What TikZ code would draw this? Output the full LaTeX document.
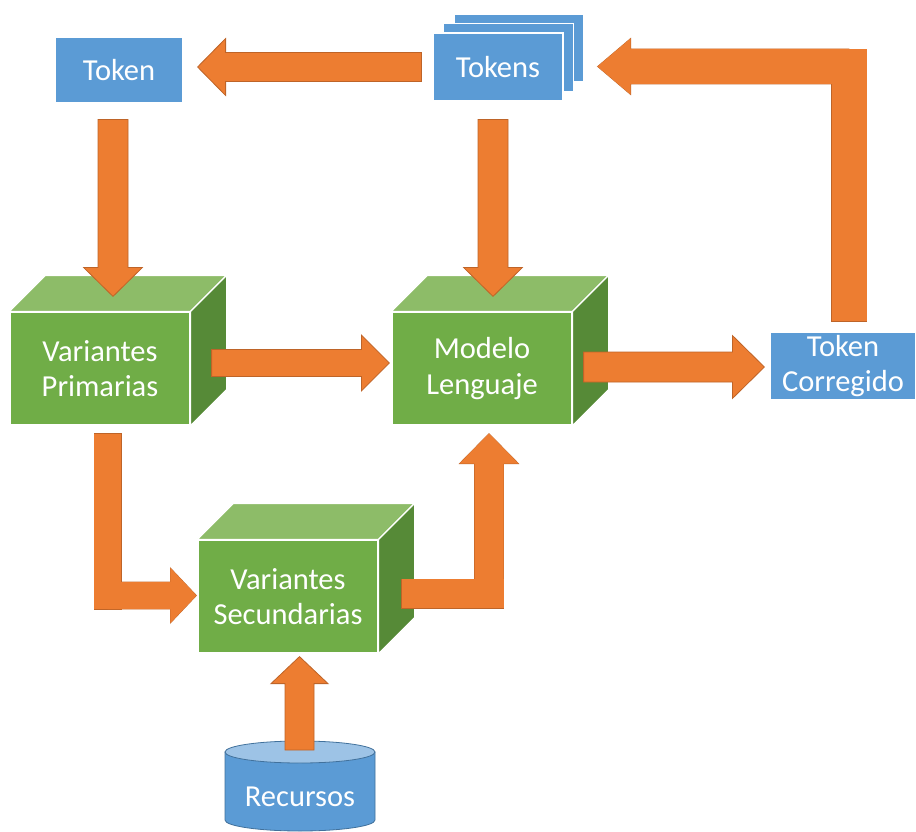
\documentclass[tikz,border=0pt]{standalone}
\usepackage{fontspec}
\setmainfont{Carlito}
\usetikzlibrary{calc,shadows}

\definecolor{boxblue}{RGB}{91,155,213}
\definecolor{cylrim}{RGB}{65,113,156}
\definecolor{cyltopc}{RGB}{157,195,230}
\definecolor{greenfront}{RGB}{112,173,71}
\definecolor{greentop}{RGB}{141,188,104}
\definecolor{greenside}{RGB}{86,138,55}
\definecolor{arroworange}{RGB}{237,125,49}
\definecolor{arrowrim}{RGB}{190,100,40}

\newcommand\diagfont{\fontsize{30.5}{35.5}\selectfont}

\tikzset{
  bluebox/.style={fill=boxblue, draw=white, line width=1.2pt, text=white,
    inner sep=0pt, align=center, font=\diagfont},
  cubefront/.style={fill=greenfront, draw=white, line width=1.2pt, text=white,
    minimum width=180pt, minimum height=113pt, inner sep=0pt, align=center,
    font=\diagfont},
  cubetop/.style={fill=greentop, draw=white, line width=1.2pt, line join=round},
  cubeside/.style={fill=greenside, draw=white, line width=1.2pt, line join=round},
  blockarrow/.style={fill=arroworange, draw=arrowrim, line width=0.8pt, line join=miter},
  arrowedge/.style={draw=arrowrim, line width=0.8pt},
  arrowbody/.style={fill=arroworange},
}

% outline of a straight block arrow: start, head base, tip, shaft half width, head half width
\newcommand\arrowpoly[5]{%
  ($(#1)!#4!90:(#2)$) -- ($(#2)!#4!-90:(#1)$) -- ($(#2)!#5!-90:(#1)$) -- (#3)
  -- ($(#2)!#5!90:(#1)$) -- ($(#2)!#4!90:(#1)$) -- ($(#1)!#4!-90:(#2)$) -- cycle}

% straight block arrow: start, tip, shaft half width, head half width, head length
\newcommand\straightarrow[5]{%
  \coordinate (hb) at ($(#2)!#5!(#1)$);
  \path[blockarrow] \arrowpoly{#1}{hb}{#2}{#3}{#4};}

% bent block arrow: start, corner, tip, shaft half width, head half width, head length
\newcommand\elbowarrow[6]{%
  \coordinate (hb) at ($(#3)!#6!(#2)$);
  \coordinate (ce) at ($(#2)!-#4!(#1)$);
  \path[arrowedge] ($(#1)!#4!90:(ce)$) -- ($(ce)!#4!-90:(#1)$)
    -- ($(ce)!#4!90:(#1)$) -- ($(#1)!#4!-90:(ce)$) -- cycle;
  \path[arrowedge] \arrowpoly{#2}{hb}{#3}{#4}{#5};
  \path[arrowbody] ($(#1)!#4!90:(ce)$) -- ($(ce)!#4!-90:(#1)$)
    -- ($(ce)!#4!90:(#1)$) -- ($(#1)!#4!-90:(ce)$) -- cycle;
  \path[arrowbody] \arrowpoly{#2}{hb}{#3}{#4}{#5};}

% side and top faces of a box whose front face is the node #1
\newcommand\cubefaces[1]{%
  \path[cubetop] (#1.north west) -- ++(36,-36) -- ($(#1.north east)+(36,-36)$)
    -- (#1.north east) -- cycle;
  \path[cubeside] (#1.north east) -- ++(36,-36) -- ($(#1.south east)+(36,-36)$)
    -- (#1.south east) -- cycle;}

\begin{document}
\begin{tikzpicture}[x=1pt, y=-1pt]
  \useasboundingbox[fill=white] (0,0) rectangle (916,832);

  % token boxes
  \node[bluebox, minimum width=128pt, minimum height=66pt] (tok) at (119,70) {Token};
  \node[bluebox, minimum width=130pt, minimum height=68pt,
        double copy shadow={shadow xshift=10.5pt, shadow yshift=9.5pt,
          fill=boxblue, draw=white, line width=1.2pt}] (toks) at (498,67) {Tokens};
  \node[bluebox, minimum width=146pt, minimum height=68pt] (tc) at (843,366) {Token\\Corregido};

  % processing blocks
  \node[cubefront] (vp) at (100,368.5) {Variantes\\Primarias};
  \cubefaces{vp}
  \node[cubefront] (ml) at (482,368.5) {Modelo\\Lenguaje};
  \cubefaces{ml}
  \node[cubefront] (vs) at (288,596.5) {Variantes\\Secundarias};
  \cubefaces{vs}

  % resource store
  \coordinate (cylc) at (300,797);
  \coordinate (cylt) at ($(cylc)+(0,-45)$);
  \coordinate (cylb) at ($(cylc)+(0,23)$);
  \path[fill=boxblue, draw=cylrim, line width=0.8pt]
    ($(cylt)+(-75,0)$) -- ($(cylb)+(-75,0)$)
    arc[start angle=180, end angle=360, x radius=75pt, y radius=11pt]
    -- ($(cylt)+(75,0)$) -- cycle;
  \path[fill=cyltopc, draw=cylrim, line width=0.8pt] (cylt) ellipse[x radius=75pt, y radius=11pt];
  \node[text=white, font=\diagfont, inner sep=0pt] (rec) at (cylc) {Recursos};

  % Tokens -> Token
  \coordinate (a1s) at ($(toks.west)+(-11,0)$);
  \coordinate (a1t) at ($(a1s -| tok.east)+(14,0)$);
  \straightarrow{a1s}{a1t}{14.5pt}{28.5pt}{28pt}

  % Token -> Variantes Primarias
  \coordinate (a2s) at ($(tok.south)+(-6,16)$);
  \coordinate (a2t) at ($(a2s |- vp.north)+(0,-15)$);
  \straightarrow{a2s}{a2t}{15pt}{29.5pt}{29pt}

  % Tokens -> Modelo Lenguaje
  \coordinate (a3s) at ($(toks.south)+(-5,18)$);
  \coordinate (a3t) at ($(a3s |- ml.north)+(0,-15)$);
  \straightarrow{a3s}{a3t}{15pt}{29.5pt}{29pt}

  % Variantes Primarias -> Modelo Lenguaje
  \coordinate (a4s) at ($(vp.east)+(21,-5.5)$);
  \coordinate (a4t) at ($(a4s -| ml.west)+(-2,0)$);
  \straightarrow{a4s}{a4t}{13.5pt}{28pt}{28pt}

  % Modelo Lenguaje -> Token Corregido
  \coordinate (a5s) at ($(ml.east)+(11,-1.5)$);
  \coordinate (a5t) at ($(a5s -| tc.west)+(-5,0)$);
  \straightarrow{a5s}{a5t}{15pt}{31.5pt}{32pt}

  % Token Corregido -> Tokens
  \coordinate (a6s) at ($(tc.north)+(6,-10)$);
  \coordinate (a6t) at ($(toks.east)+(34,-0.5)$);
  \coordinate (a6c) at (a6s |- a6t);
  \elbowarrow{a6s}{a6c}{a6t}{17.5pt}{28pt}{33pt}

  % Variantes Primarias -> Variantes Secundarias
  \coordinate (a7s) at ($(vp.south)+(7.5,8)$);
  \coordinate (a7t) at ($(vs.west)+(-1,-1)$);
  \coordinate (a7c) at (a7s |- a7t);
  \elbowarrow{a7s}{a7c}{a7t}{13.5pt}{27.5pt}{26pt}

  % Variantes Secundarias -> Modelo Lenguaje
  \coordinate (a8s) at ($(vs.east)+(23,-3)$);
  \coordinate (a8t) at ($(ml.south)+(7,8)$);
  \coordinate (a8c) at (a8t |- a8s);
  \elbowarrow{a8s}{a8c}{a8t}{14.5pt}{29.5pt}{30pt}

  % Recursos -> Variantes Secundarias
  \coordinate (a9s) at ($(rec.center)+(-0.5,-47)$);
  \coordinate (a9t) at ($(a9s |- vs.south)+(0,3)$);
  \straightarrow{a9s}{a9t}{14.5pt}{28.5pt}{27pt}
\end{tikzpicture}
\end{document}
